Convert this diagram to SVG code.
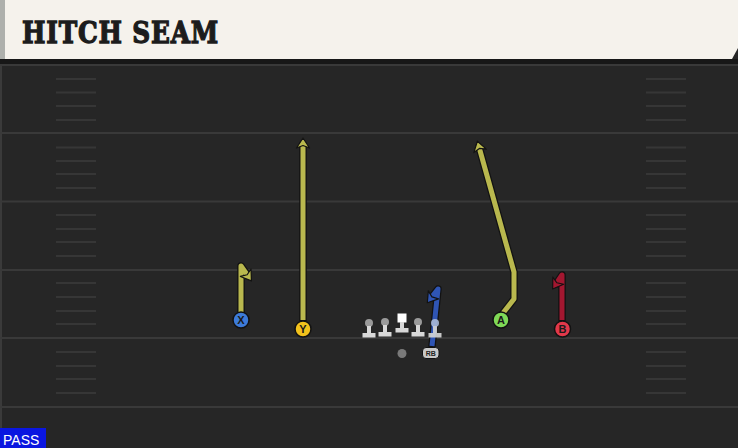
<svg xmlns="http://www.w3.org/2000/svg" width="738" height="448" viewBox="0 0 738 448">
<defs>
<style>
.yl{stroke:#393939;stroke-width:2}
.hm{stroke:#363636;stroke-width:2}
.ol{fill:none;stroke:#121212;stroke-width:7.5;stroke-linejoin:round;stroke-linecap:round}
.ry{fill:none;stroke:#b9b84e;stroke-width:5;stroke-linejoin:round}
.rr{fill:none;stroke:#a31730;stroke-width:5;stroke-linejoin:round}
.rb{fill:none;stroke:#2f55b5;stroke-width:5;stroke-linejoin:round}
.pc{stroke:#121212;stroke-width:1.5}
.pl{font-family:"Liberation Sans",Arial,sans-serif;font-size:11px;font-weight:bold;fill:#1a1a1a;text-anchor:middle}
.head{fill:#9a9a9a}
.body{fill:#d8d8d8}
</style>
<marker id="ay" viewBox="-8 -8 16 16" markerWidth="16" markerHeight="16" markerUnits="userSpaceOnUse" orient="auto" refX="0" refY="0">
<path d="M6,0 L-4,-6.5 L-1.5,0 L-4,6.5 Z" fill="#b9b84e" stroke="#121212" stroke-width="1.2" stroke-linejoin="round"/>
</marker>
<marker id="ar" viewBox="-8 -8 16 16" markerWidth="16" markerHeight="16" markerUnits="userSpaceOnUse" orient="auto" refX="0" refY="0">
<path d="M6,0 L-4,-6.5 L-1.5,0 L-4,6.5 Z" fill="#a31730" stroke="#121212" stroke-width="1.2" stroke-linejoin="round"/>
</marker>
<marker id="ab" viewBox="-8 -8 16 16" markerWidth="16" markerHeight="16" markerUnits="userSpaceOnUse" orient="auto" refX="0" refY="0">
<path d="M6,0 L-4,-6.5 L-1.5,0 L-4,6.5 Z" fill="#2f55b5" stroke="#121212" stroke-width="1.2" stroke-linejoin="round"/>
</marker>
</defs>

<!-- field -->
<rect x="0" y="0" width="738" height="448" fill="#262626"/>
<rect x="0" y="59" width="738" height="5" fill="#171717"/>
<rect x="0" y="64" width="2" height="384" fill="#3a3a3a"/>
<g id="yardlines">
<line class="yl" x1="0" y1="65" x2="738" y2="65"/>
<line class="yl" x1="0" y1="133" x2="738" y2="133"/>
<line class="yl" x1="0" y1="201.5" x2="738" y2="201.5"/>
<line class="yl" x1="0" y1="270" x2="738" y2="270"/>
<line class="yl" x1="0" y1="338" x2="738" y2="338"/>
<line class="yl" x1="0" y1="407" x2="738" y2="407"/>
</g>
<g id="hashes">
<path class="hm" d="M56,79H96M56,92.5H96M56,106H96M56,120H96M56,147.5H96M56,161H96M56,174H96M56,188H96M56,215H96M56,229H96M56,242H96M56,256H96M56,283H96M56,297H96M56,311H96M56,324H96M56,352H96M56,366H96M56,379H96M56,393H96"/>
<path class="hm" d="M646,79H686M646,92.5H686M646,106H686M646,120H686M646,147.5H686M646,161H686M646,174H686M646,188H686M646,215H686M646,229H686M646,242H686M646,256H686M646,283H686M646,297H686M646,311H686M646,324H686M646,352H686M646,366H686M646,379H686M646,393H686"/>
</g>

<!-- header -->
<g id="header">
<polygon points="0,0 738,0 738,48 732,59 0,59" fill="#f5f2ec"/>
<rect x="0" y="0" width="5" height="59" fill="#aeb0ac"/>
<text x="22" y="43" font-family="'DejaVu Serif','Liberation Serif',serif" font-weight="bold" font-size="30" fill="#1c1c1c" stroke="#1c1c1c" stroke-width="1.3" letter-spacing="1" textLength="197" lengthAdjust="spacingAndGlyphs">HITCH SEAM</text>
</g>

<!-- routes -->
<g id="connectors">
<path class="ol" d="M241,312 V266 L248,276"/>
<path class="ry" d="M241,312 V266 L248,276" marker-end="url(#ay)"/>
<path class="ol" d="M303,320 V144"/>
<path class="ry" d="M303,320 V144" marker-end="url(#ay)"/>
<path class="ol" d="M503,313 L514,299 V272 L479,147"/>
<path class="ry" d="M503,313 L514,299 V272 L479,147" marker-end="url(#ay)"/>
<path class="ol" d="M562,320 V275 L556,284"/>
<path class="rr" d="M562,320 V275 L556,284" marker-end="url(#ar)"/>
<path class="ol" d="M432,346 L438,289 L431,298"/>
<path class="rb" d="M432,346 L438,289 L431,298" marker-end="url(#ab)"/>
</g>

<!-- offensive line -->
<g id="lt"><circle class="head" cx="369" cy="323" r="4"/><rect class="body" x="367" y="326" width="4" height="8"/><rect class="body" x="362.5" y="333" width="13" height="4.5"/></g>
<g id="lg"><circle class="head" cx="385" cy="322" r="4"/><rect class="body" x="383" y="325" width="4" height="8"/><rect class="body" x="378.5" y="332" width="13" height="4.5"/></g>
<g id="c"><rect x="397.5" y="313.5" width="9" height="9" fill="#ffffff"/><rect class="body" x="400" y="322" width="4" height="7"/><rect class="body" x="395.5" y="328" width="13" height="4.5"/></g>
<g id="rg"><circle class="head" cx="418" cy="322" r="4"/><rect class="body" x="416" y="325" width="4" height="8"/><rect class="body" x="411.5" y="332" width="13" height="4.5"/></g>
<g id="rt" opacity="0.9"><circle cx="435" cy="323" r="4" fill="#a9b9d8"/><rect class="body" x="433" y="326" width="4" height="8"/><rect class="body" x="428.5" y="333" width="13" height="4.5"/></g>

<!-- backs -->
<g id="qb"><circle cx="402" cy="353.5" r="4.5" fill="#7a7a7a"/></g>
<g id="rb"><rect x="422.5" y="347.5" width="16.5" height="11" rx="3.5" fill="#c9c9c9" stroke="#121212" stroke-width="1"/><text x="430.8" y="356" font-family="'Liberation Sans',Arial,sans-serif" font-size="7" font-weight="bold" fill="#222" text-anchor="middle">RB</text></g>

<!-- receivers -->
<g id="x"><circle class="pc" cx="241" cy="320" r="8" fill="#3d7bd9"/><text class="pl" x="241" y="324">X</text></g>
<g id="y"><circle class="pc" cx="303" cy="329" r="8" fill="#f2c21c"/><text class="pl" x="303" y="333">Y</text></g>
<g id="a"><circle class="pc" cx="501" cy="320" r="8" fill="#7fd957"/><text class="pl" x="501" y="324">A</text></g>
<g id="b"><circle class="pc" cx="562.5" cy="329" r="8" fill="#e2384a"/><text class="pl" x="562.5" y="333">B</text></g>

<!-- pass tag -->
<g id="pass">
<rect x="0" y="428" width="46" height="20" fill="#0a16e0"/>
<text x="3" y="444.5" font-family="'Liberation Sans',Arial,sans-serif" font-size="14" fill="#ffffff">PASS</text>
</g>
</svg>
